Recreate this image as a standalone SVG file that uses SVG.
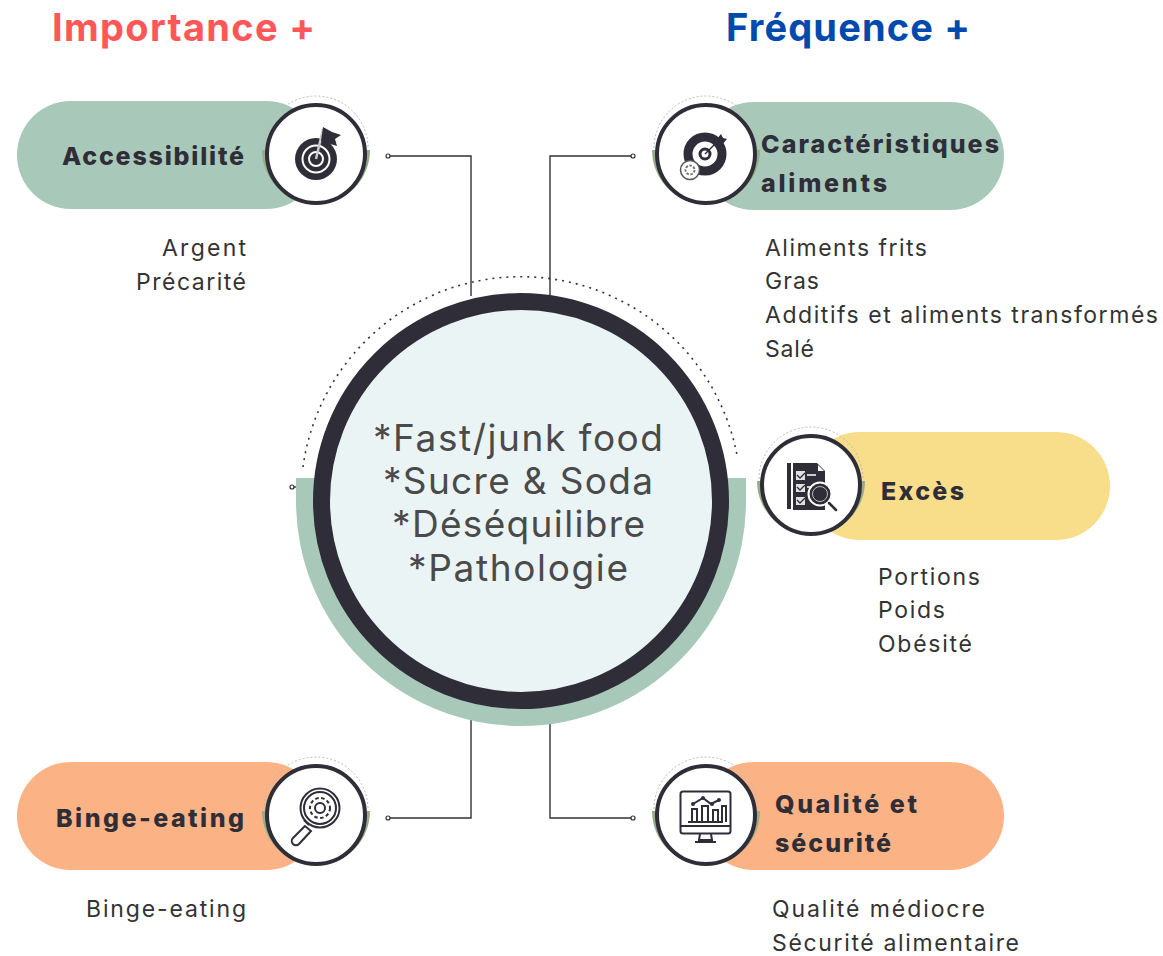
<svg xmlns="http://www.w3.org/2000/svg" width="1163" height="956" viewBox="0 0 1163 956">
<style>
text{font-family:Inter,"Open Sans","Liberation Sans",sans-serif}
.b{font-size:25px;font-weight:800;fill:#2f2e38}
.t{font-size:23px;font-weight:400;fill:#333}
.c{font-size:37px;font-weight:400;fill:#4a4a4a}
.h{font-size:38px;font-weight:700}
.ln{fill:none;stroke:#333;stroke-width:1.4}
.dot{fill:#fff;stroke:#333;stroke-width:1.2}
.ring{fill:#fff;stroke:#2f2d38;stroke-width:4}
.dk{fill:#2f2d38}
.ol{fill:none;stroke:#2f2d38;stroke-width:2}
.ow{fill:none;stroke:#fff;stroke-width:2}
.faint{fill:none;stroke:#bbb;stroke-width:1;stroke-dasharray:2 2}
</style>
<defs>
<g id="badge">
<path d="M-54 -4H54A54 54 0 0 1 -54 -4Z" fill="#94ad87"/>
<path class="faint" d="M-52 -6A52 52 0 0 1 52 -6"/>
<circle r="49" class="ring"/>
</g>
</defs>
<rect width="1163" height="956" fill="#fff"/>
<g id="connectors">
<path class="ln" d="M388 156H471V296"/>
<path class="ln" d="M633 156H550V296"/>
<path class="ln" d="M388 818H471V710"/>
<path class="ln" d="M633 818H550V710"/>
<path class="ln" d="M292 487H297"/>
<circle class="dot" cx="388" cy="156" r="2"/>
<circle class="dot" cx="633" cy="156" r="2"/>
<circle class="dot" cx="388" cy="818" r="2"/>
<circle class="dot" cx="633" cy="818" r="2"/>
<circle class="dot" cx="292" cy="487" r="2"/>
</g>
<g id="center">
<path d="M296 478H746V501A225 225 0 0 1 296 501Z" fill="#a8c9b9"/>
<path d="M303 467A220 220 0 0 1 737 455" fill="none" stroke="#333" stroke-width="1.6" stroke-dasharray="2 5"/>
<circle cx="521" cy="501" r="199.5" fill="#eaf4f5" stroke="#2f2d38" stroke-width="17"/>
<text class="c" x="373" y="451" textLength="290">*Fast/junk food</text>
<text class="c" x="383" y="494" textLength="270">*Sucre &amp; Soda</text>
<text class="c" x="392" y="537" textLength="253">*Déséquilibre</text>
<text class="c" x="408" y="581" textLength="220">*Pathologie</text>
</g>
<g id="title-importance"><text class="h" x="52" y="41" textLength="263" fill="#ff5757">Importance +</text></g>
<g id="title-frequence"><text class="h" x="726" y="41" textLength="244" fill="#004aad">Fréquence +</text></g>
<g id="accessibilite">
<rect x="17" y="101" width="303" height="108" rx="54" fill="#a8c9b9"/>
<use href="#badge" x="316" y="154"/>
<circle cx="316" cy="159" r="21" class="dk"/>
<circle cx="316" cy="159" r="13.5" class="ow"/>
<circle cx="316" cy="159" r="7" class="ow"/>
<path d="M316 159L323 129" stroke="#ccc" stroke-width="2.5" fill="none"/>
<path class="dk" d="M323 127L332 132L341 135L335 139L337 146L327 143L321 141Z"/>
<text class="b" x="62" y="165" textLength="182">Accessibilité</text>
<text class="t" x="162" y="256" textLength="84">Argent</text>
<text class="t" x="136" y="290" textLength="110">Précarité</text>
</g>
<g id="caracteristiques">
<rect x="700" y="102" width="304" height="108" rx="54" fill="#a8c9b9"/>
<use href="#badge" x="706" y="154"/>
<circle cx="705" cy="154" r="17" fill="none" stroke="#2f2d38" stroke-width="9"/>
<circle cx="705" cy="154" r="5" fill="none" stroke="#2f2d38" stroke-width="3"/>
<path d="M705 154L718 141" stroke="#2f2d38" stroke-width="1.5"/>
<path class="dk" d="M716 140L721 134L723 138L727 139L722 145Z"/>
<circle cx="690" cy="170" r="9.5" fill="#fff" stroke="#555" stroke-width="1.5"/>
<circle cx="690" cy="170" r="4.5" fill="none" stroke="#777" stroke-width="2" stroke-dasharray="2.5 1.5"/>
<text class="b" x="761" y="153" textLength="238">Caractéristiques</text>
<text class="b" x="761" y="192" textLength="126">aliments</text>
<text class="t" x="765" y="256" textLength="162">Aliments frits</text>
<text class="t" x="765" y="289" textLength="54">Gras</text>
<text class="t" x="765" y="323" textLength="393">Additifs et aliments transformés</text>
<text class="t" x="765" y="357" textLength="49">Salé</text>
</g>
<g id="exces">
<rect x="806" y="432" width="304" height="108" rx="54" fill="#f8de8b"/>
<use href="#badge" x="811" y="485"/>
<path class="dk" d="M787 463H791V509H787Z"/>
<path class="dk" d="M793 463H817L825 471V510H793Z"/>
<path fill="#fff" d="M818 465L824 471H818Z"/>
<path d="M796 471H805V480H796ZM796 484H805V492H796ZM796 497H805V505H796Z" fill="#fff" opacity=".85"/>
<path d="M797 475l3 3 5-5M797 487l3 3 5-5M797 500l3 3 5-5" fill="none" stroke="#2f2d38" stroke-width="1.3"/>
<path d="M807 475H816M807 487H812" stroke="#fff" stroke-width="1.5"/>
<circle cx="820" cy="494" r="11.5" class="dk" stroke="#fff" stroke-width="2"/>
<circle cx="820" cy="494" r="7.5" fill="none" stroke="#bbb" stroke-width="1"/>
<path d="M829 503L836 510" stroke="#2f2d38" stroke-width="2.5" stroke-linecap="round"/>
<text class="b" x="881" y="500" textLength="83">Excès</text>
<text class="t" x="878" y="585" textLength="102">Portions</text>
<text class="t" x="878" y="618" textLength="67">Poids</text>
<text class="t" x="878" y="652" textLength="94">Obésité</text>
</g>
<g id="binge-eating">
<rect x="17" y="762" width="303" height="108" rx="54" fill="#fbb385"/>
<use href="#badge" x="316" y="815"/>
<circle cx="320" cy="808" r="19.5" class="ol"/>
<circle cx="320" cy="808" r="16" class="ol" stroke-width="1.2"/>
<circle cx="320" cy="808" r="10" fill="none" stroke="#2f2d38" stroke-width="2" stroke-dasharray="3.5 2.5"/>
<circle cx="320" cy="808" r="5" class="ol" stroke-width="1.5"/>
<path class="ol" d="M309 825L304 820M305 826L293 838A4 4 0 0 0 299 844L311 831Z"/>
<text class="b" x="56" y="827" textLength="188">Binge-eating</text>
<text class="t" x="86" y="917" textLength="160">Binge-eating</text>
</g>
<g id="qualite">
<rect x="700" y="762" width="304" height="108" rx="54" fill="#fbb385"/>
<use href="#badge" x="706" y="815"/>
<rect x="680.500" y="791.500" width="50" height="42" rx="2.500" class="ol" stroke-width="1.6"/>
<path class="ol" stroke-width="1.6" d="M681 826H730M700 834L699 840H712L711 834M695 842H716M688 822H723"/>
<path class="ol" stroke-width="1.6" d="M692 822V809H697V822M702 822V806H708V822M713 822V810H718V822M722 822V806H726V822"/>
<path class="ol" stroke-width="1.3" d="M693 804L703 798L711 804L719 800"/>
<circle cx="693" cy="804" r="2" class="dk"/><circle cx="703" cy="798" r="2" class="dk"/><circle cx="712" cy="804" r="2" class="dk"/><circle cx="719" cy="800" r="2" class="dk"/>
<text class="b" x="775" y="813" textLength="142">Qualité et</text>
<text class="b" x="775" y="852" textLength="116">sécurité</text>
<text class="t" x="772" y="917" textLength="213">Qualité médiocre</text>
<text class="t" x="772" y="951" textLength="247">Sécurité alimentaire</text>
</g>
</svg>
